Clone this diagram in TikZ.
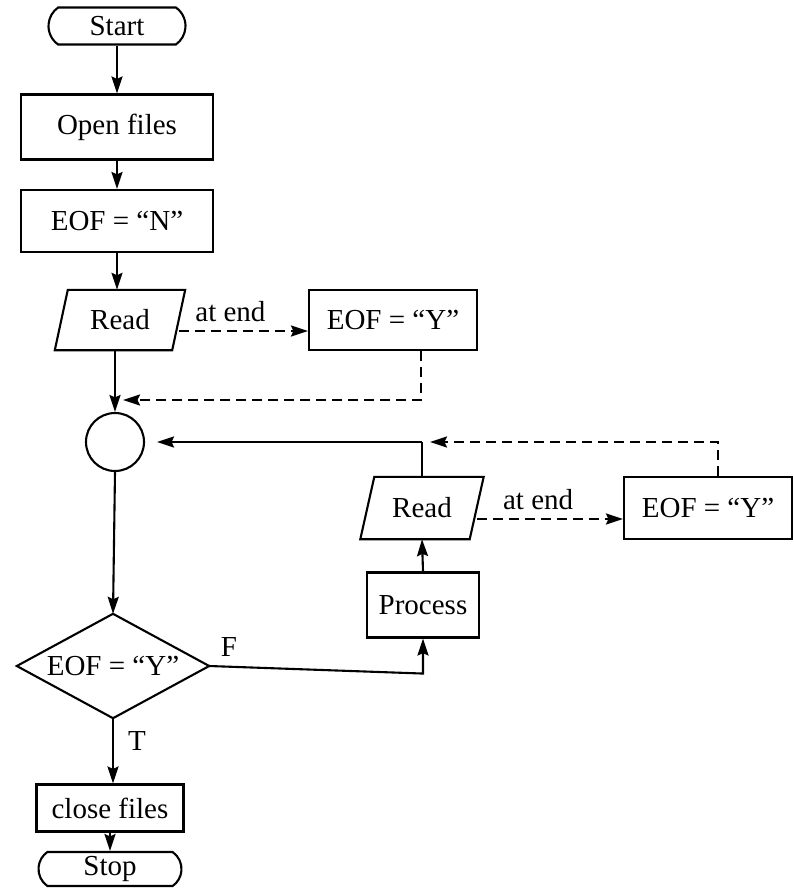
\documentclass[tikz,border=0pt]{standalone}
\usepackage{fontspec}
\setmainfont{Liberation Serif}
\usetikzlibrary{shapes.misc,arrows.meta}

\begin{document}
\begin{tikzpicture}[x=1pt,y=-1pt,
  every node/.style={font=\fontsize{29}{32}\selectfont, inner sep=0pt},
  ln/.style={line width=2.1pt},
  arr/.style={ln, -{Stealth[length=17pt,width=11pt,inset=2.5pt]}},
  darr/.style={arr, dash pattern=on 10pt off 6pt},
  stepbox/.style={draw, ln, rectangle},
  term/.style={draw, ln, rounded rectangle, rounded rectangle arc length=110},
  para/.style={rectangle},
  lbl/.style={font=\fontsize{29}{32}\selectfont}
]
\useasboundingbox (0,0) rectangle (794,888);

% left column
\node[term, minimum width=137pt, minimum height=37pt] (start) at (117,26) {Start};
\node[stepbox, minimum width=192pt, minimum height=65pt] (open) at (117,127) {Open files};
\node[stepbox, minimum width=192pt, minimum height=62pt] (eofn) at (117,221) {EOF = “N”};
\node[para, minimum width=117pt, minimum height=60pt] (read1) at (120,320) {Read};
\draw[ln] ([xshift=-6.5pt]read1.south west) -- ([xshift=-6.5pt]read1.south east)
  -- ([xshift=6.5pt]read1.north east) -- ([xshift=6.5pt]read1.north west) -- cycle;
\node[stepbox, minimum width=168pt, minimum height=60pt] (eofy1) at (393,320) {EOF = “Y”};
\node[draw, ln, circle, minimum size=58pt] (join) at (115,442) {};

% loop body
\node[para, minimum width=109pt, minimum height=62pt] (read2) at (422,508) {Read};
\draw[ln] ([xshift=-7pt]read2.south west) -- ([xshift=-7pt]read2.south east)
  -- ([xshift=7pt]read2.north east) -- ([xshift=7pt]read2.north west) -- cycle;
\node[stepbox, minimum width=168pt, minimum height=62pt] (eofy2) at (708,508) {EOF = “Y”};
\node[stepbox, minimum width=112pt, minimum height=65pt] (proc) at (423,605) {Process};

% decision
\node[rectangle, minimum width=192pt, minimum height=104pt] (dec) at (113,666) {EOF = “Y”};
\draw[ln] (dec.north) -- (dec.east) -- (dec.south) -- (dec.west) -- cycle;

\node[stepbox, minimum width=147pt, minimum height=47pt] (close) at (110,808) {close files};
\node[term, minimum width=143pt, minimum height=34pt] (stop) at (110,869) {Stop};

% main flow
\draw[arr] (start.south) -- (open.north);
\draw[arr] (open.south) -- (eofn.north);
\draw[arr] (eofn.south) -- (eofn.south |- read1.north);
\draw[arr] (read1.south -| join.north) -- (join.north);
\draw[darr] ([yshift=-11pt]read1.east) -- ([yshift=-11pt]read1.east -| eofy1.west)
  node[lbl, pos=0.4, above=8pt] {at end};
\coordinate (m1) at (123,400);
\draw[darr] ([xshift=28pt]eofy1.south) |- (m1);

\draw[arr] (join.south) -- (dec.north);
\draw[arr] (dec.south) -- (dec.south |- close.north) node[lbl, pos=0.35, right=14pt] {T};
\draw[arr] (close.south) -- (stop.north);

% false branch and loop
\draw[arr] (dec.east) -- ([yshift=-35pt]proc.south) -- (proc.south);
\node[lbl] (flbl) at (229,647) {F};
\draw[arr] (proc.north) -- (read2.south);
\draw[ln] (read2.north) -- (read2.north |- join.east);
\draw[arr] (read2.north |- join.east) -- ([xshift=12pt]join.east);
\draw[darr] ([yshift=-11pt]read2.east) -- ([yshift=-11pt]read2.east -| eofy2.west)
  node[lbl, pos=0.42, above=8pt] {at end};
\draw[darr] ([xshift=10pt]eofy2.north) |- ([xshift=8pt]read2.north |- join.east);
\end{tikzpicture}
\end{document}
